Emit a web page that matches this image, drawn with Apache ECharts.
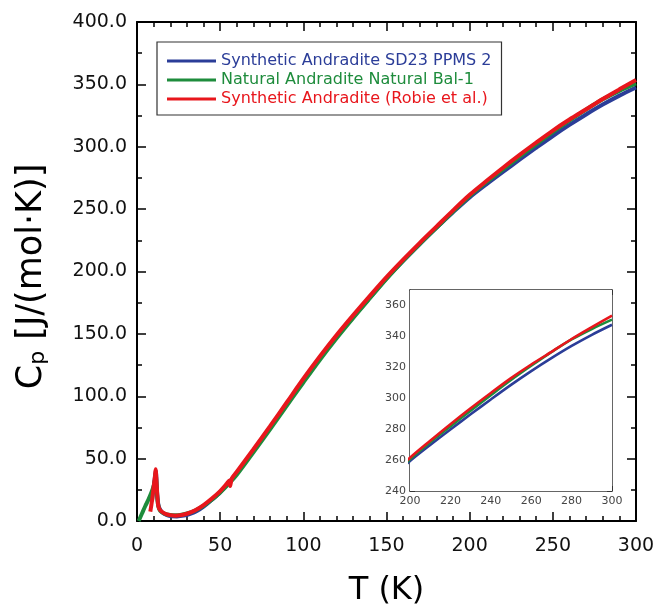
<!DOCTYPE html>
<html>
<head>
<meta charset="utf-8">
<script src="https://cdn.jsdelivr.net/npm/echarts@6/dist/echarts.min.js"></script>
<style>
html,body{margin:0;padding:0;background:#fff;}
#c{width:655px;height:606px;}
</style>
</head>
<body>
<div id="c"></div>
<script>
// ---- data ----
const seriesNames = ['Synthetic Andradite SD23 PPMS 2', 'Natural Andradite Natural Bal-1', 'Synthetic Andradite (Robie et al.)'];
const seriesColors = ['#2b3d98', '#1e8c3c', '#e8161c'];

const tBlue = [9, 10, 11, 11.3, 12, 13, 15, 18, 21, 24, 28, 32, 36, 40, 45, 50, 60, 70, 80, 90, 100, 110, 120, 130, 140, 150, 160, 170, 180, 190, 200, 210, 220, 230, 240, 250, 260, 270, 280, 290, 300];
const cpBlue = [16, 27, 37, 40, 24, 12, 7, 4.6, 3.8, 3.7, 4.3, 5.8, 8, 11.5, 17, 23, 38.5, 56.5, 75, 93.8, 112.6, 130.8, 147.6, 163.5, 179, 194.5, 208.5, 222, 235, 247.5, 259.4, 269.8, 279.8, 289.6, 299.2, 308.6, 317.5, 325.9, 333.8, 341, 347.5];

const tGreen = [1, 3, 5, 7, 9, 10, 10.8, 11.2, 11.7, 12.2, 13, 14, 16, 18, 20, 23, 26, 30, 35, 40, 45, 50, 55, 60, 70, 80, 90, 100, 110, 120, 130, 140, 150, 160, 170, 180, 190, 200, 210, 220, 230, 240, 250, 260, 270, 280, 290, 300];
const cpGreen = [0, 6, 12, 17.5, 24, 28, 33, 38, 30, 18, 11, 8, 6.2, 5.2, 4.8, 4.6, 4.9, 6, 8.4, 12.2, 17, 22.8, 29.5, 37, 55, 73.5, 92.3, 111, 129.3, 146.5, 162.8, 178.5, 194, 208.5, 222, 235, 248, 260.5, 271.5, 281.8, 292, 302, 311.8, 321, 329.8, 338, 344.8, 350.8];

const tRed = [8, 9, 10, 10.8, 11.2, 11.8, 12.3, 12.8, 14, 16, 18, 20, 23, 26, 30, 35, 40, 45, 50, 54, 55.5, 56, 57, 60, 70, 80, 90, 100, 110, 120, 130, 140, 150, 160, 170, 180, 190, 200, 210, 220, 230, 240, 250, 260, 270, 280, 290, 300];
const cpRed = [7.5, 16, 27, 36, 41.5, 30, 19, 12, 8.5, 6.5, 5.3, 4.7, 4.3, 4.6, 5.8, 8.6, 12.8, 18, 24, 30, 32.5, 28, 34, 39.5, 57.5, 76, 95, 114, 132, 149, 165, 180.5, 195.5, 209.5, 223, 236, 249, 261.5, 272.5, 283.2, 293.5, 303.4, 313, 321.8, 330, 338.3, 346, 353.5];

const mainXTicks = {min: 0, max: 300, interval: 50};
const mainYTicks = {min: 0, max: 400, interval: 50};
const insetXTicks = {min: 200, max: 300, interval: 20};
const insetYTicks = {min: 240, max: 370, interval: 20};

// ---- build ----
const FONT = '"DejaVu Sans", "Open Sans", sans-serif';
function pairs(t, c) { return t.map((v, i) => [v, c[i]]); }
const allData = [pairs(tBlue, cpBlue), pairs(tGreen, cpGreen), pairs(tRed, cpRed)];

function axisBase(gi, pos, ticks, opts) {
  return {
    gridIndex: gi, type: 'value', position: pos,
    min: ticks.min, max: ticks.max, interval: ticks.interval,
    axisLine: {show: true, onZero: false, lineStyle: {color: opts.lineColor, width: opts.lineWidth}},
    axisTick: {show: true, inside: true, length: opts.tickLen, lineStyle: {color: opts.lineColor, width: opts.tickWidth}},
    minorTick: {show: true, splitNumber: opts.minorSplit, length: opts.minorLen, lineStyle: {color: opts.lineColor, width: opts.tickWidth}},
    splitLine: {show: false},
    axisLabel: {show: opts.labels, fontFamily: FONT, fontSize: opts.fontSize, color: opts.labelColor, margin: opts.margin,
      formatter: opts.formatter, showMaxLabel: opts.showMax !== false}
  };
}

const mainX = {lineColor: '#000', lineWidth: 2, tickLen: 9, tickWidth: 1.5, minorSplit: 5, minorLen: 5, fontSize: 19, labelColor: '#111', margin: 16};
const mainY = Object.assign({}, mainX, {minorSplit: 2, formatter: v => v.toFixed(1), margin: 10});
const insX = {lineColor: '#333', lineWidth: 1.5, tickLen: 5, tickWidth: 1, minorSplit: 2, minorLen: 3, fontSize: 11, labelColor: '#444', margin: 5};
const insY = Object.assign({}, insX, {minorSplit: 2, showMax: false, margin: 4});

const xAxes = [
  Object.assign(axisBase(0, 'bottom', mainXTicks, Object.assign({labels: true}, mainX)),
    {name: 'T (K)', nameLocation: 'middle', nameGap: 54, nameTextStyle: {fontFamily: FONT, fontSize: 32, color: '#000'}}),
  axisBase(0, 'top', mainXTicks, Object.assign({labels: false}, mainX)),
  axisBase(1, 'bottom', insetXTicks, Object.assign({labels: true}, insX)),
  axisBase(1, 'top', insetXTicks, Object.assign({labels: false}, insX))
];
const yAxes = [
  Object.assign(axisBase(0, 'left', mainYTicks, Object.assign({labels: true}, mainY)),
    {name: '{m|C}{s|p}{m| [J/(mol·K)]}', nameLocation: 'middle', nameGap: 88, nameRotate: 90,
     nameTextStyle: {fontFamily: FONT, color: '#000', padding: [0, 10, 0, 0],
       rich: {m: {fontFamily: FONT, fontSize: 35, lineHeight: 42, verticalAlign: 'bottom', color: '#000'},
              s: {fontFamily: FONT, fontSize: 22, lineHeight: 12, verticalAlign: 'bottom', color: '#000'}}}}),
  axisBase(0, 'right', mainYTicks, Object.assign({labels: false}, mainY)),
  axisBase(1, 'left', insetYTicks, Object.assign({labels: true}, insY)),
  axisBase(1, 'right', insetYTicks, Object.assign({labels: false}, insY))
];

const series = [];
allData.forEach((d, i) => {
  series.push({name: seriesNames[i], type: 'line', xAxisIndex: 0, yAxisIndex: 0, data: d,
    showSymbol: false, symbol: 'none', smooth: 0.3, lineStyle: {color: seriesColors[i], width: 4}, itemStyle: {color: seriesColors[i]},
    z: 2 + i, silent: true, animation: false});
});
allData.forEach((d, i) => {
  series.push({name: seriesNames[i], type: 'line', xAxisIndex: 2, yAxisIndex: 2, data: d,
    showSymbol: false, symbol: 'none', smooth: 0.3, clip: true, lineStyle: {color: seriesColors[i], width: 2.6}, itemStyle: {color: seriesColors[i]},
    z: 12 + i, silent: true, animation: false});
});

const option = {
  animation: false,
  backgroundColor: '#fff',
  grid: [
    {left: 137, right: 19, top: 22, bottom: 85, show: false, containLabel: false, outerBoundsMode: 'none'},
    {left: 410, top: 290, width: 202, height: 201, show: true, backgroundColor: '#fff', borderWidth: 0, z: 10, containLabel: false, outerBoundsMode: 'none'}
  ],
  legend: {
    left: 157, top: 42, orient: 'vertical',
    borderColor: '#333', borderWidth: 1.2, padding: [11, 10, 8, 10],
    backgroundColor: '#fff',
    itemWidth: 49, itemHeight: 16, itemGap: 3,
    textStyle: {fontFamily: FONT, fontSize: 16},
    data: seriesNames.map((n, i) => ({name: n, icon: 'path://M0,7 L49,7 L49,10 L0,10 Z', itemStyle: {color: seriesColors[i]}, textStyle: {color: seriesColors[i]}}))
  },
  xAxis: xAxes,
  yAxis: yAxes,
  series: series
};

const chart = echarts.init(document.getElementById('c'), null, {renderer: 'canvas'});
chart.setOption(option);
</script>
</body>
</html>
